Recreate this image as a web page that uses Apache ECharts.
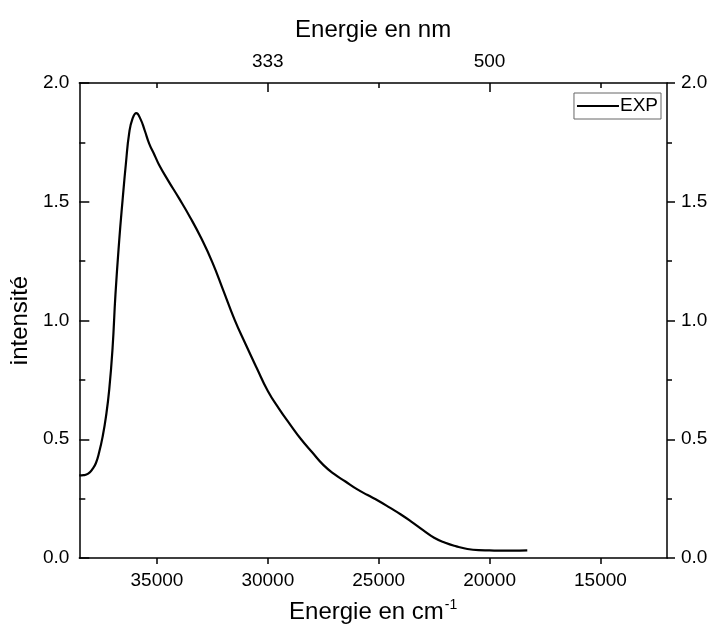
<!DOCTYPE html>
<html>
<head>
<meta charset="utf-8">
<script src="https://cdn.jsdelivr.net/npm/echarts@6/dist/echarts.min.js"></script>
<style>html,body{margin:0;padding:0;background:#fff;}#c{width:712px;height:635px;}</style>
</head>
<body>
<div id="c"></div>
<script>
// Wavenumber (cm-1) and intensity
const wavenumbers = [38500, 38300, 38100, 37900, 37750, 37600, 37450, 37300, 37150, 37000, 36870, 36700, 36550, 36400, 36250, 36100, 35930, 35750, 35550, 35350, 35100, 34900, 34500, 34000, 33500, 33000, 32500, 32000, 31500, 31000, 30500, 30000, 29500, 29000, 28500, 28000, 27500, 27000, 26500, 26000, 25500, 25000, 24500, 24000, 23500, 23000, 22500, 22000, 21500, 21000, 20500, 20000, 19500, 19000, 18300];
const intensities = [0.348, 0.349, 0.355, 0.375, 0.40, 0.447, 0.51, 0.594, 0.71, 0.885, 1.11, 1.338, 1.506, 1.66, 1.79, 1.85, 1.873, 1.85, 1.80, 1.745, 1.695, 1.655, 1.59, 1.514, 1.434, 1.346, 1.245, 1.125, 1.004, 0.90, 0.80, 0.703, 0.629, 0.563, 0.50, 0.445, 0.392, 0.353, 0.322, 0.291, 0.265, 0.24, 0.212, 0.183, 0.151, 0.117, 0.085, 0.064, 0.049, 0.038, 0.033, 0.032, 0.031, 0.031, 0.032];
const bottomTicks = [35000, 30000, 25000, 20000, 15000];
const topLabelTicks = [30000, 20000];
const topAllTicks = [35000, 30000, 25000, 20000, 15000];
const seriesName = 'EXP';

const FONT = "'Liberation Sans', Arial, sans-serif";
const black = '#000';
const data = wavenumbers.map((w, i) => [w, intensities[i]]);

const chart = echarts.init(document.getElementById('c'), null, {renderer: 'canvas'});
const axisLine = {show: true, onZero: false, lineStyle: {color: black, width: 1.5}};
chart.setOption({
  animation: false,
  backgroundColor: '#fff',
  grid: {left: 77, right: 45, top: 83, bottom: 77, containLabel: false},
  legend: {
    data: [{name: seriesName, icon: 'rect'}],
    right: 51, top: 93,
    orient: 'vertical',
    borderColor: '#666', borderWidth: 1,
    padding: [3, 3, 3, 3],
    itemWidth: 42, itemHeight: 2, itemGap: 0,
    itemStyle: {color: black, borderWidth: 0},
    textStyle: {fontFamily: FONT, fontSize: 19, color: black, lineHeight: 20, padding: [0, 0, 0, -4]}
  },
  xAxis: [
    {
      type: 'value', position: 'bottom', min: 12000, max: 38500, inverse: true,
      axisLine: axisLine,
      axisTick: {show: true, inside: false, length: 6, customValues: bottomTicks, lineStyle: {color: black, width: 1.5}},
      axisLabel: {show: true, customValues: bottomTicks, margin: 13, fontFamily: FONT, fontSize: 19, color: black,
        formatter: v => String(v)},
      splitLine: {show: false},
      name: '{a|Energie en cm}{b|-1}',
      nameLocation: 'middle', nameGap: 40,
      nameTextStyle: {
        rich: {
          a: {fontFamily: FONT, fontSize: 24, color: black, lineHeight: 26, verticalAlign: 'bottom'},
          b: {fontFamily: FONT, fontSize: 14, color: black, lineHeight: 26, verticalAlign: 'top', padding: [0, 0, 14, 1]}
        }
      }
    },
    {
      type: 'value', position: 'top', min: 12000, max: 38500, inverse: true,
      axisLine: axisLine,
      axisTick: {show: true, inside: true, length: 5, customValues: topAllTicks, lineStyle: {color: black, width: 1.5}},
      axisLabel: {show: true, customValues: topLabelTicks, margin: 12, fontFamily: FONT, fontSize: 19, color: black,
        formatter: v => String(Math.round(1e7 / v))},
      splitLine: {show: false},
      name: 'Energie en nm',
      nameLocation: 'middle', nameGap: 41,
      nameTextStyle: {fontFamily: FONT, fontSize: 24, color: black}
    },
    {
      type: 'value', position: 'top', min: 12000, max: 38500, inverse: true,
      axisLine: {show: false, onZero: false},
      axisTick: {show: true, inside: true, length: 9, customValues: topLabelTicks, lineStyle: {color: black, width: 1.5}},
      axisLabel: {show: false},
      splitLine: {show: false}
    }
  ],
  yAxis: [
    {
      type: 'value', position: 'left', min: 0, max: 2, interval: 0.5,
      axisLine: axisLine,
      axisTick: {show: true, inside: true, length: 10, lineStyle: {color: black, width: 1.5}},
      minorTick: {show: true, splitNumber: 2, length: 6, lineStyle: {color: black, width: 1.5}},
      axisLabel: {margin: 10, fontFamily: FONT, fontSize: 19, color: black, formatter: v => v.toFixed(1)},
      splitLine: {show: false}, minorSplitLine: {show: false},
      name: 'intensité', nameLocation: 'middle', nameRotate: 90, nameGap: 44,
      nameTextStyle: {fontFamily: FONT, fontSize: 24, color: black}
    },
    {
      type: 'value', position: 'right', min: 0, max: 2, interval: 0.5,
      axisLine: axisLine,
      axisTick: {show: true, inside: false, length: 8, lineStyle: {color: black, width: 1.5}},
      minorTick: {show: true, splitNumber: 2, length: 5, lineStyle: {color: black, width: 1.5}},
      axisLabel: {margin: 14, fontFamily: FONT, fontSize: 19, color: black, formatter: v => v.toFixed(1)},
      splitLine: {show: false}, minorSplitLine: {show: false}
    }
  ],
  series: [{
    name: seriesName,
    type: 'line',
    xAxisIndex: 0, yAxisIndex: 0,
    data: data,
    symbol: 'none',
    smooth: 0.5,
    lineStyle: {color: black, width: 2.2},
    itemStyle: {color: black}
  }]
});
</script>
</body>
</html>
